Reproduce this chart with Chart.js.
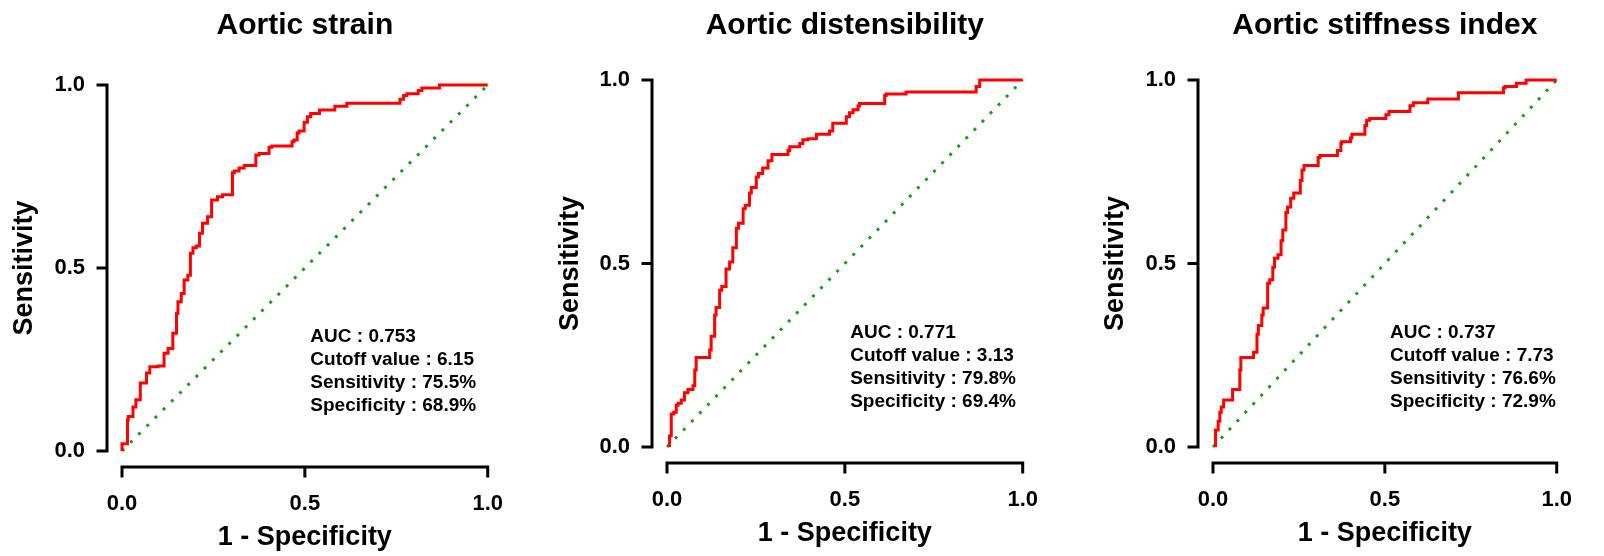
<!DOCTYPE html>
<html>
<head>
<meta charset="utf-8">
<script src="https://cdn.jsdelivr.net/npm/chart.js@4.4.1/dist/chart.umd.min.js"></script>
<style>
  html, body { margin: 0; padding: 0; background: #fff; }
  body { width: 1604px; height: 556px; position: relative; overflow: hidden; }
  canvas { position: absolute; top: 0; }
</style>
</head>
<body>
<canvas id="roc1" width="535" height="556" style="left:0px"></canvas>
<canvas id="roc2" width="535" height="556" style="left:535px"></canvas>
<canvas id="roc3" width="534" height="556" style="left:1070px"></canvas>
<script>
/* data */
const panelTitles = ["Aortic strain", "Aortic distensibility", "Aortic stiffness index"];
const xAxisTitle = "1 - Specificity";
const yAxisTitle = "Sensitivity";
const tickValues = [0, 0.5, 1];
const tickLabels = ["0.0", "0.5", "1.0"];

const strainFpr = [0, 0.005, 0.015, 0.017, 0.03, 0.038, 0.05, 0.067, 0.076, 0.098, 0.115, 0.126, 0.139, 0.149, 0.153,
  0.162, 0.17, 0.18, 0.187, 0.194, 0.203, 0.212, 0.22, 0.234, 0.245, 0.261, 0.275, 0.302, 0.307, 0.32,
  0.334, 0.366, 0.375, 0.402, 0.41, 0.465, 0.47, 0.479, 0.484, 0.498, 0.507, 0.516, 0.54, 0.558, 0.582,
  0.591, 0.615, 0.62, 0.76, 0.77, 0.779, 0.81, 0.82, 0.83, 0.868, 0.877, 1];
const strainTpr = [0, 0.02, 0.02, 0.085, 0.094, 0.12, 0.14, 0.186, 0.213, 0.23, 0.232, 0.267, 0.28, 0.322, 0.376,
  0.408, 0.43, 0.467, 0.48, 0.54, 0.555, 0.56, 0.595, 0.622, 0.64, 0.686, 0.695, 0.70, 0.76, 0.765,
  0.773, 0.78, 0.809, 0.813, 0.83, 0.833, 0.845, 0.85, 0.869, 0.874, 0.898, 0.913, 0.922, 0.932, 0.932,
  0.942, 0.942, 0.95, 0.95, 0.961, 0.971, 0.976, 0.985, 0.992, 0.992, 1, 1];

const distFpr = [0.007, 0.012, 0.019, 0.026, 0.031, 0.04, 0.049, 0.059, 0.073, 0.078, 0.082, 0.096, 0.12, 0.124, 0.134,
  0.138, 0.148, 0.154, 0.166, 0.176, 0.185, 0.195, 0.201, 0.214, 0.22, 0.232, 0.237, 0.251, 0.257, 0.269,
  0.284, 0.295, 0.304, 0.34, 0.345, 0.373, 0.382, 0.396, 0.42, 0.424, 0.457, 0.466, 0.471, 0.504, 0.513,
  0.523, 0.537, 0.541, 0.555, 0.612, 0.616, 0.672, 0.677, 0.869, 0.879, 0.884, 1];
const distTpr = [0, 0.03, 0.09, 0.095, 0.114, 0.119, 0.128, 0.148, 0.157, 0.167, 0.21, 0.244, 0.244, 0.264, 0.302,
  0.36, 0.38, 0.427, 0.437, 0.485, 0.504, 0.543, 0.596, 0.61, 0.649, 0.659, 0.692, 0.707, 0.736, 0.745,
  0.76, 0.78, 0.797, 0.797, 0.808, 0.818, 0.827, 0.837, 0.84, 0.852, 0.852, 0.861, 0.882, 0.882, 0.9,
  0.911, 0.919, 0.929, 0.936, 0.936, 0.958, 0.962, 0.967, 0.967, 0.982, 1, 1];

const stiffFpr = [0.0075, 0.015, 0.02, 0.024, 0.031, 0.037, 0.057, 0.06, 0.078, 0.081, 0.09, 0.118, 0.128, 0.132, 0.142,
  0.146, 0.159, 0.165, 0.174, 0.179, 0.189, 0.198, 0.203, 0.212, 0.217, 0.226, 0.235, 0.24, 0.254, 0.259,
  0.265, 0.275, 0.306, 0.311, 0.362, 0.372, 0.374, 0.4, 0.404, 0.442, 0.447, 0.456, 0.503, 0.512, 0.522,
  0.573, 0.583, 0.592, 0.625, 0.629, 0.714, 0.733, 0.845, 0.85, 0.883, 0.887, 0.911, 0.916, 1];
const stiffTpr = [0, 0.046, 0.07, 0.095, 0.109, 0.128, 0.128, 0.157, 0.157, 0.21, 0.244, 0.244, 0.258, 0.307, 0.331,
  0.36, 0.379, 0.446, 0.456, 0.49, 0.514, 0.524, 0.562, 0.591, 0.639, 0.654, 0.678, 0.692, 0.692, 0.726,
  0.755, 0.767, 0.767, 0.789, 0.794, 0.808, 0.827, 0.832, 0.842, 0.852, 0.876, 0.89, 0.895, 0.905, 0.914,
  0.914, 0.93, 0.938, 0.938, 0.948, 0.948, 0.965, 0.965, 0.979, 0.982, 0.991, 0.991, 1, 1];

const chanceX = [0, 1];
const chanceY = [0, 1];

const aucValues = ["0.753", "0.771", "0.737"];
const cutoffValues = ["6.15", "3.13", "7.73"];
const sensValues = ["75.5%", "79.8%", "76.6%"];
const specValues = ["68.9%", "69.4%", "72.9%"];

/* geometry of each panel (pixels) */
const panelBoxes = [
  { id: "roc1", axisW: 122, axisH: 105, padTop: 85, padRight: 45, yTitlePad: 8,  xTitlePad: 2 },
  { id: "roc2", axisW: 132, axisH: 109, padTop: 80, padRight: 35, yTitlePad: 19, xTitlePad: 6 },
  { id: "roc3", axisW: 143, axisH: 109, padTop: 80, padRight: 21, yTitlePad: 29, xTitlePad: 6 }
];
const curves = [[strainFpr, strainTpr], [distFpr, distTpr], [stiffFpr, stiffTpr]];

const FONT = '"Liberation Sans", Arial, sans-serif';
Chart.defaults.font.family = FONT;
Chart.defaults.color = "#000";

const toPoints = (xs, ys) => xs.map((v, i) => ({ x: v, y: ys[i] }));

/* prism-like detached axes, panel title and stats text */
const prismFrame = {
  id: "prismFrame",
  afterDraw(chart, args, opts) {
    const { ctx, scales: { x, y } } = chart;
    const x0 = x.getPixelForValue(0), x1 = x.getPixelForValue(1);
    const y0 = y.getPixelForValue(0), y1 = y.getPixelForValue(1);
    const ax = x0 - 15, ay = y0 + 16;
    ctx.save();
    ctx.strokeStyle = "#000";
    ctx.lineWidth = 3;
    ctx.lineCap = "square";
    ctx.beginPath();
    ctx.moveTo(ax, y1); ctx.lineTo(ax, y0);
    ctx.moveTo(x0, ay); ctx.lineTo(x1, ay);
    tickValues.forEach(v => {
      const py = y.getPixelForValue(v);
      ctx.moveTo(ax, py); ctx.lineTo(ax - 9, py);
      const px = x.getPixelForValue(v);
      ctx.moveTo(px, ay); ctx.lineTo(px, ay + 9);
    });
    ctx.stroke();

    ctx.fillStyle = "#000";
    ctx.font = "bold 30px " + FONT;
    ctx.textAlign = "center";
    ctx.textBaseline = "alphabetic";
    ctx.fillText(opts.title, (x0 + x1) / 2, 34);

    ctx.font = "bold 19px " + FONT;
    ctx.textAlign = "left";
    const tx = x.getPixelForValue(0.515);
    let ty = y.getPixelForValue(0.297);
    opts.lines.forEach(t => { ctx.fillText(t, tx, ty); ty += 23; });
    ctx.restore();
  }
};

panelBoxes.forEach((box, i) => {
  const [fpr, tpr] = curves[i];
  new Chart(document.getElementById(box.id), {
    type: "scatter",
    data: {
      datasets: [
        { data: toPoints(fpr, tpr), showLine: true, stepped: "after", borderColor: "#ff0000",
          borderWidth: 3, pointRadius: 0, fill: false, clip: false },
        { data: toPoints(chanceX, chanceY), showLine: true, borderColor: "#1f9a1f", borderWidth: 3,
          borderDash: [3, 8.6], borderCapStyle: "butt", pointRadius: 0, fill: false, clip: false }
      ]
    },
    options: {
      responsive: false,
      animation: false,
      events: [],
      layout: { padding: { left: 0, right: box.padRight, top: box.padTop, bottom: 0 } },
      plugins: {
        legend: { display: false },
        tooltip: { enabled: false },
        title: { display: false },
        prismFrame: {
          title: panelTitles[i],
          lines: [
            "AUC : " + aucValues[i],
            "Cutoff value : " + cutoffValues[i],
            "Sensitivity : " + sensValues[i],
            "Specificity : " + specValues[i]
          ]
        }
      },
      scales: {
        x: {
          type: "linear", min: 0, max: 1,
          afterBuildTicks: s => { s.ticks = tickValues.map(v => ({ value: v })); },
          afterFit: s => { s.height = box.axisH; },
          grid: { display: false },
          border: { display: false },
          ticks: { callback: (v, k) => tickLabels[k], padding: 32, maxRotation: 0, autoSkip: false,
                   font: { size: 22, weight: "bold" }, color: "#000" },
          title: { display: true, text: xAxisTitle, color: "#000", padding: { top: 0, bottom: box.xTitlePad },
                   font: { size: 27, weight: "bold" } }
        },
        y: {
          type: "linear", min: 0, max: 1,
          afterBuildTicks: s => { s.ticks = tickValues.map(v => ({ value: v })); },
          afterFit: s => { s.width = box.axisW; },
          grid: { display: false },
          border: { display: false },
          ticks: { callback: (v, k) => tickLabels[k], padding: 29, autoSkip: false,
                   font: { size: 22, weight: "bold" }, color: "#000" },
          title: { display: true, text: yAxisTitle, color: "#000", padding: { top: box.yTitlePad, bottom: 0 },
                   font: { size: 27, weight: "bold" } }
        }
      }
    },
    plugins: [prismFrame]
  });
});
</script>
</body>
</html>
